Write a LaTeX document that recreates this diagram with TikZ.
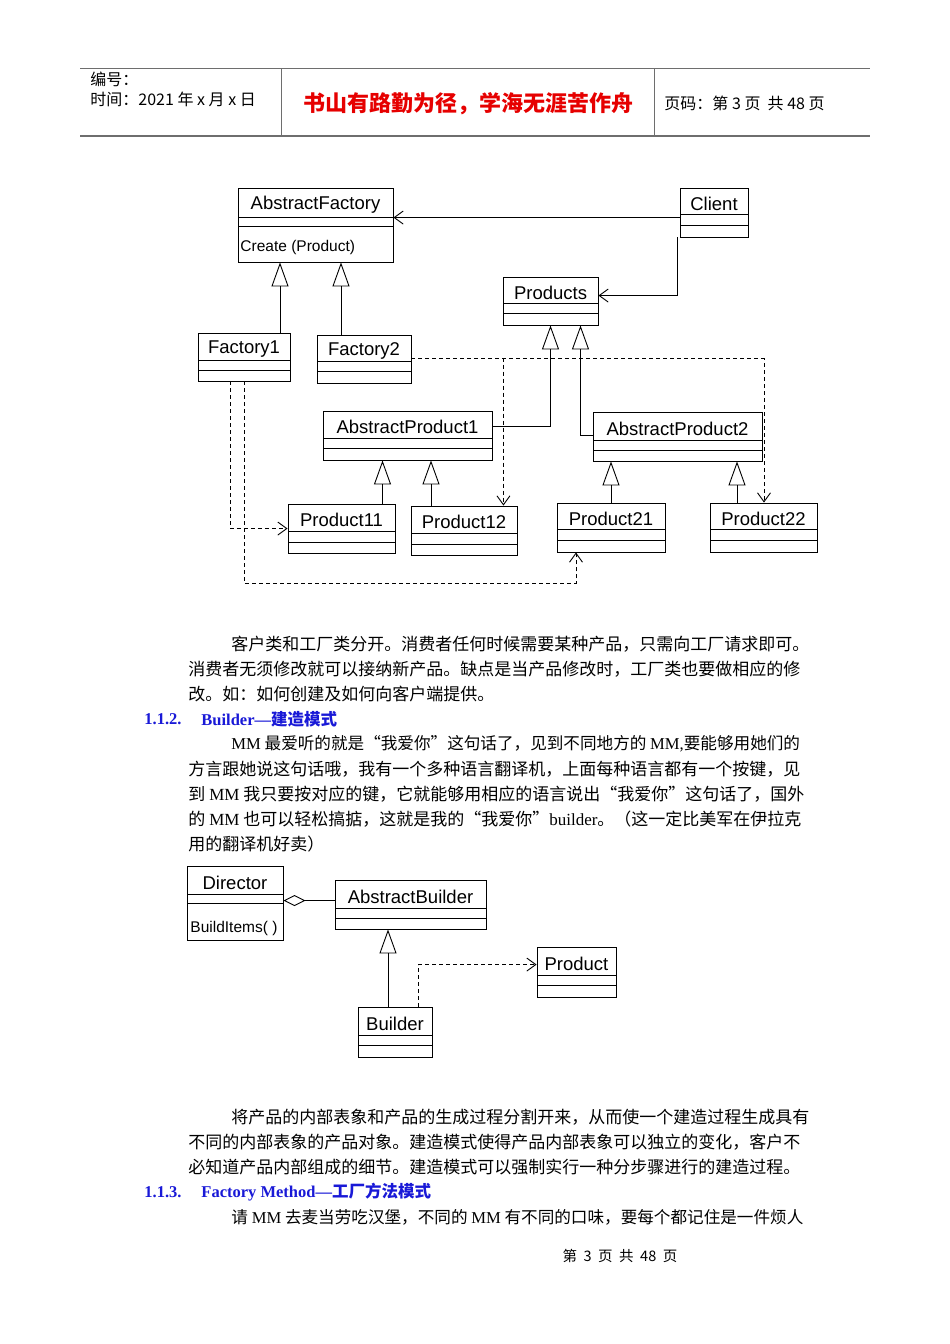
\documentclass[tikz,border=0pt]{standalone}
\usepackage{fontspec}
\setmainfont{Liberation Serif}
\setsansfont{Liberation Sans}
\newfontfamily\cjk{Noto Sans CJK SC}
\usetikzlibrary{arrows.meta,calc,fit}
\definecolor{headblue}{RGB}{25,25,215}
\definecolor{mottored}{RGB}{230,0,0}
\definecolor{rulegray}{RGB}{110,110,110}

% class box: id, left, top, right, bottom, divider 1, divider 2, name
\newcommand{\umlclass}[8]{%
  \node[classbox, fit={(#2,-#3) (#4,-#5)}] (#1) {};
  \draw (#2,-#6) -- (#4,-#6) (#2,-#7) -- (#4,-#7);
  \node[classname] (#1-name) at ({(#2+#4)/2},{-(#3+#6)/2-2.5}) {#8};
}
\newcommand{\mmname}{{\rmfamily MM}}

\begin{document}
\begin{tikzpicture}[x=1pt, y=1pt, line width=0.9pt,
    classbox/.style={draw, inner sep=0pt},
    classname/.style={inner sep=0pt, font=\sffamily\fontsize{18.5}{20}\selectfont},
    opname/.style={anchor=west, inner sep=0pt, font=\sffamily\fontsize{15.5}{18}\selectfont},
    gen/.style={-{Triangle[open, length=24pt, width=17pt]}},
    nav/.style={-{Straight Barb[length=9pt, width=13pt]}},
    dep/.style={nav, dash pattern=on 4pt off 3pt},
    agg/.style={{Diamond[open, length=22pt, width=11pt]}-},
    para/.style={anchor=west, inner sep=0pt, font=\cjk\fontsize{17}{20}\selectfont},
    paratight/.style={para, font=\cjk\fontsize{16.6}{20}\selectfont},
    head/.style={anchor=west, inner sep=0pt, text=headblue, font=\bfseries\fontsize{16.5}{20}\selectfont},
    hdrtext/.style={anchor=west, inner sep=0pt, font=\cjk\fontsize{16}{18}\selectfont}
]
\useasboundingbox[fill=white] (0,0) rectangle (950,-1344);

% page header
\draw[rulegray, line width=1pt] (80,-68) -- (870,-68);
\draw[rulegray, line width=2pt] (80,-136) -- (870,-136);
\draw[rulegray, line width=1pt] (281,-68) -- (281,-136) (654,-68) -- (654,-136);
\node[hdrtext] (hdrno) at (90,-79) {编号：};
\node[hdrtext] (hdrdate) at (90,-99) {时间：2021 年 x 月 x 日};
\node[inner sep=0pt, text=mottored, font=\cjk\bfseries\fontsize{22}{24}\selectfont] (motto) at (468,-104) {书山有路勤为径，学海无涯苦作舟};
\node[hdrtext] (hdrpage) at (664,-103) {页码：第 3 页 \ 共 48 页};

% abstract factory diagram
\umlclass{afac}{238}{188}{393}{262}{217}{226}{AbstractFactory}
\node[opname] (afac-op) at (240,-247) {Create (Product)};
\umlclass{client}{680}{188}{748}{237}{214}{225}{Client}
\umlclass{prods}{503}{277}{598}{325}{303}{313}{Products}
\umlclass{fac1}{198}{333}{290}{381}{360}{370}{Factory1}
\umlclass{fac2}{317}{335}{411}{383}{361}{371}{Factory2}
\umlclass{aprod1}{323}{411}{492}{460}{438}{448}{AbstractProduct1}
\umlclass{aprod2}{593}{412}{762}{461}{440}{450}{AbstractProduct2}
\umlclass{p11}{288}{504}{395}{553}{531}{542}{Product11}
\umlclass{p12}{411}{506}{517}{555}{533}{544}{Product12}
\umlclass{p21}{557}{503}{665}{552}{529}{540}{Product21}
\umlclass{p22}{710}{503}{817}{552}{529}{540}{Product22}

% client uses factory and products
\draw[nav] ($(client.north west)+(0,-30)$) -- ($(afac.north east)+(0,-30)$);
\draw[nav] ($(client.south west)+(-2,0)$) |- ($(prods.north east)+(0,-19)$);

% inheritance
\draw[gen] ($(fac1.north)+(36,0)$) coordinate (g1) -- (g1 |- afac.south);
\draw[gen] ($(fac2.north)+(-23,0)$) coordinate (g2) -- (g2 |- afac.south);
\draw[gen] ($(aprod1.north east)+(0,-16)$) -| (prods.south);
\draw[gen] ($(aprod2.north west)+(0,-24)$) -| ($(prods.south)+(30,0)$);
\draw[gen] ($(p11.north)+(41,0)$) coordinate (g3) -- (g3 |- aprod1.south);
\draw[gen] ($(p12.north)+(-33,0)$) coordinate (g4) -- (g4 |- aprod1.south);
\draw[gen] (p21.north) -- (p21.north |- aprod2.south);
\draw[gen] ($(p22.north)+(-26.5,0)$) coordinate (g5) -- (g5 |- aprod2.south);

% factories create products
\draw[dep] ($(fac2.north east)+(0,-24)$) -| ($(p22.north)+(0.5,0)$);
\draw[dep] ($(fac2.north east)+(0,-24)$) -| ($(p12.north east)+(-14,0)$);
\draw[dep] ($(fac1.south)+(-14,0)$) |- ($(p11.north west)+(0,-25)$);
\draw[dep] (fac1.south) |- ($(p21.south)+(-35,-31)$) -- ($(p21.south)+(-35,0)$);

% text
\node[para] (txt1) at (231,-644) {客户类和工厂类分开。消费者任何时候需要某种产品，只需向工厂请求即可。};
\node[para] (txt2) at (188,-669) {消费者无须修改就可以接纳新产品。缺点是当产品修改时，工厂类也要做相应的修};
\node[para] (txt3) at (188,-694) {改。如：如何创建及如何向客户端提供。};
\node[head] (sec2) at (144,-719) {1.1.2.};
\node[head] (sec2t) at (201,-719) {Builder—{\cjk 建造模式}};
\node[paratight] (txt4) at (231,-744) {\mmname{} 最爱听的就是“我爱你”这句话了，见到不同地方的 {\rmfamily MM,}要能够用她们的};
\node[para] (txt5) at (188,-769) {方言跟她说这句话哦，我有一个多种语言翻译机，上面每种语言都有一个按键，见};
\node[para] (txt6) at (188,-794) {到 \mmname{} 我只要按对应的键，它就能够用相应的语言说出“我爱你”这句话了，国外};
\node[para] (txt7) at (188,-819) {的 \mmname{} 也可以轻松搞掂，这就是我的“我爱你”{\rmfamily builder}。（这一定比美军在伊拉克};
\node[para] (txt8) at (188,-844) {用的翻译机好卖）};

% builder diagram
\umlclass{director}{187}{866}{283}{940}{894}{903}{Director}
\node[opname] (director-op) at (190,-928) {BuildItems( )};
\umlclass{abuilder}{335}{880}{486}{929}{908}{918}{AbstractBuilder}
\umlclass{builder}{358}{1007}{432}{1057}{1035}{1045}{Builder}
\umlclass{product}{537}{947}{616}{997}{975}{985}{Product}

\draw[agg] ($(director.north east)+(0,-35)$) -- ($(abuilder.north west)+(0,-21)$);
\draw[gen] ($(builder.north)+(-7,0)$) coordinate (g6) -- (g6 |- abuilder.south);
\draw[dep] ($(builder.north)+(23,0)$) |- ($(product.north west)+(0,-18)$);

\node[para] (txt9) at (231,-1117) {将产品的内部表象和产品的生成过程分割开来，从而使一个建造过程生成具有};
\node[para] (txt10) at (188,-1142) {不同的内部表象的产品对象。建造模式使得产品内部表象可以独立的变化，客户不};
\node[para] (txt11) at (188,-1167) {必知道产品内部组成的细节。建造模式可以强制实行一种分步骤进行的建造过程。};
\node[head] (sec3) at (144,-1192) {1.1.3.};
\node[head] (sec3t) at (201,-1192) {Factory Method—{\cjk 工厂方法模式}};
\node[paratight] (txt12) at (231,-1217) {请 \mmname{} 去麦当劳吃汉堡，不同的 \mmname{} 有不同的口味，要每个都记住是一件烦人};

% page footer
\node[inner sep=0pt, font=\cjk\fontsize{14.5}{16}\selectfont] (footer) at (620,-1256) {第 \ 3 \ 页 \ 共 \ 48 \ 页};
\end{tikzpicture}
\end{document}
